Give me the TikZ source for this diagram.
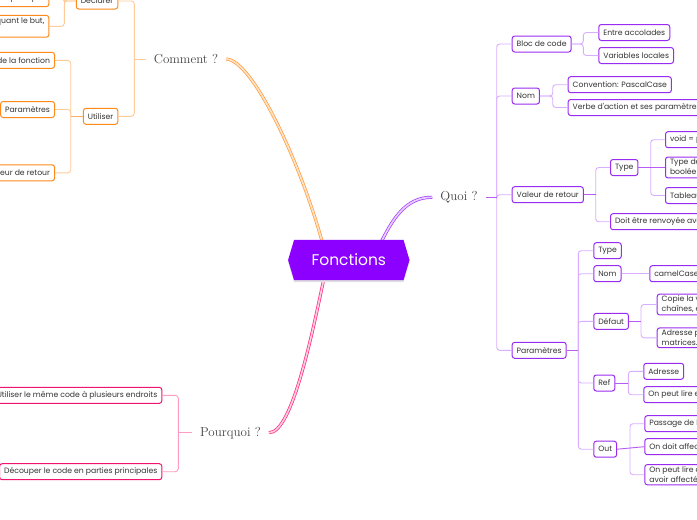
\documentclass[tikz,border=0pt]{standalone}
\usepackage{fontspec}
\newfontfamily\boxfont{Poppins}
\usetikzlibrary{calc}
\definecolor{fmain}{HTML}{8C00FF}
\definecolor{qborder}{HTML}{9A2CF2}
\definecolor{qline}{HTML}{D9AEFF}
\definecolor{qlinedark}{HTML}{B45CF5}
\definecolor{qcurve}{HTML}{A03BFF}
\definecolor{oborder}{HTML}{FF8A1C}
\definecolor{oline}{HTML}{FFCC99}
\definecolor{ocurve}{HTML}{FF9A3C}
\definecolor{pborder}{HTML}{F2136F}
\definecolor{pline}{HTML}{FF9CC4}
\definecolor{pcurve}{HTML}{FF2A80}
\definecolor{txt}{HTML}{333333}
\definecolor{lbl}{HTML}{444444}
\tikzset{
  leaf/.style={rounded corners=2.5pt, fill=white, line width=1pt,
    font=\boxfont\fontsize{7.7}{10}\selectfont, text=txt, inner xsep=4.5pt,
    inner ysep=2pt, minimum height=16pt, align=left},
  qbox/.style={leaf, draw=qborder, anchor=west},
  obox/.style={leaf, draw=oborder, anchor=east},
  pbox/.style={leaf, draw=pborder, anchor=east},
  mainlbl/.style={font=\fontsize{13}{15}\selectfont, text=lbl, inner xsep=8pt, inner ysep=2pt},
  qconn/.style={draw=qline, line width=0.9pt, rounded corners=3pt},
  oconn/.style={draw=oline, line width=0.9pt, rounded corners=3pt},
  pconn/.style={draw=pline, line width=0.9pt, rounded corners=3pt},
  curvebase/.style={line width=0.7pt, double distance=1.7pt},
}
\begin{document}
\begin{tikzpicture}[x=1pt,y=-1pt]
\useasboundingbox (0,0) rectangle (697,520);
\clip (0,0) rectangle (697,520);
\fill[white] (0,0) rectangle (697,520);

% central node
\node[minimum width=121pt, minimum height=40pt, inner sep=0pt] (F) at (348.8,260) {};
\coordinate (cA) at ($(F.north)+(-25.5,0)$);
\coordinate (cB) at ($(F.north)+(30.5,0)$);
\coordinate (cC) at ($(F.south)+(-24,0)$);

% main labels
\node[mainlbl] (comment) at (186,59) {Comment ?};
\node[mainlbl] (quoi) at (459,197.3) {Quoi ?};
\node[mainlbl] (pourquoi) at (230.5,432.7) {Pourquoi ?};

% main curves
\draw[curvebase, draw=ocurve, double=ocurve!30] (comment.east) .. controls (252,60) and (300,160) .. ($(cA)+(0,6)$);
\draw[curvebase, draw=qcurve, double=qcurve!25] ($(cB)+(0,6)$) .. controls (392,220) and (405,197) .. (quoi.west);
\draw[curvebase, draw=pcurve, double=pcurve!25] ($(cC)+(0,-6)$) .. controls (312,335) and (292,433) .. (pourquoi.east);

\fill[black!12] ($(F.west)+(0,2)$) -- ($(F.north west)+(6,2)$) -- ($(F.north east)+(-6,2)$) -- ($(F.east)+(0,2)$) -- ($(F.south east)+(-6,2)$) -- ($(F.south west)+(6,2)$) -- cycle;
\fill[fmain] (F.west) -- ($(F.north west)+(6,0)$) -- ($(F.north east)+(-6,0)$) -- (F.east) -- ($(F.south east)+(-6,0)$) -- ($(F.south west)+(6,0)$) -- cycle;
\node[text=white, font=\boxfont\fontsize{15.5}{18}\selectfont] (Ft) at (F.center) {Fonctions};

% ---------- Quoi ----------
\node[qbox] (bloc) at (511.7,44) {Bloc de code};
\node[qbox] (entre) at (598.3,32.5) {Entre accolades};
\node[qbox] (varloc) at (598.3,55.5) {Variables locales};
\node[qbox] (nom) at (511.7,96) {Nom};
\node[qbox] (conv) at (567.7,84.7) {Convention: PascalCase};
\node[qbox] (verbe) at (567.7,107.5) {Verbe d'action et ses paramètres};
\node[qbox] (valeur) at (511.7,194.7) {Valeur de retour};
\node[qbox] (type) at (610,167.5) {Type};
\node[qbox] (doit) at (610,221.7) {Doit être renvoyée avec return};
\node[qbox] (void) at (665,139.7) {void = pas de valeur};
\node[qbox] (typede) at (665,167.5) {Type de base : entier,\\booléen, caractère};
\node[qbox] (tableau) at (665,195.5) {Tableau};
\node[qbox] (params) at (511.7,350.3) {Paramètres};
\node[qbox] (ptype) at (593.3,250.7) {Type};
\node[qbox] (pnom) at (593.3,273.7) {Nom};
\node[qbox] (camel) at (649.3,273.7) {camelCase};
\node[qbox] (defaut) at (593.3,321.3) {Défaut};
\node[qbox] (copie) at (656.7,304.5) {Copie la valeur pour\\chaînes, entiers};
\node[qbox] (adrp) at (656.7,337.8) {Adresse pour tableaux,\\matrices.};
\node[qbox] (ref) at (593.3,383) {Ref};
\node[qbox] (radr) at (643.3,371.3) {Adresse};
\node[qbox] (rlire) at (643.3,394.7) {On peut lire et modifier};
\node[qbox] (out) at (593.3,449.2) {Out};
\node[qbox] (pass) at (644.3,423.7) {Passage de l'adresse};
\node[qbox] (doitaff) at (644.3,446.7) {On doit affecter};
\node[qbox] (lire2) at (644.3,474.7) {On peut lire qu'après\\avoir affecté};

\coordinate (qt) at (496.7,197.3);
\draw[qconn] (qt) |- (bloc.west);
\draw[qconn] (qt) |- (nom.west);
\draw[qconn] (qt) |- (valeur.west);
\draw[qconn] (qt) |- (params.west);
\draw[qconn, draw=qlinedark] (quoi.east) -- (qt);

\coordinate (bb) at (583.3,44);
\draw[qconn] (bloc.east) -- (bb) |- (entre.west);
\draw[qconn] (bloc.east) -- (bb) |- (varloc.west);
\coordinate (nb) at (552.7,96);
\draw[qconn] (nom.east) -- (nb) |- (conv.west);
\draw[qconn] (nom.east) -- (nb) |- (verbe.west);
\coordinate (vb) at (595.7,194.7);
\draw[qconn] (vb) |- (type.west);
\draw[qconn] (vb) |- (doit.west);
\draw[qconn, draw=qlinedark] (valeur.east) -- (vb);
\coordinate (tb) at (650.7,167.5);
\draw[qconn] (tb) |- (void.west);
\draw[qconn] (tb) |- (tableau.west);
\draw[qconn, draw=qlinedark] (type.east) -- (typede.west);
\coordinate (pb) at (578.3,350.3);
\draw[qconn] (pb) |- (ptype.west);
\draw[qconn] (pb) |- (pnom.west);
\draw[qconn] (pb) |- (defaut.west);
\draw[qconn] (pb) |- (ref.west);
\draw[qconn] (pb) |- (out.west);
\draw[qconn, draw=qlinedark] (params.east) -- (pb);
\draw[qconn] (pnom.east) -- (camel.west);
\coordinate (db) at (641,321.3);
\draw[qconn] (db) |- (copie.west);
\draw[qconn] (db) |- (adrp.west);
\draw[qconn, draw=qlinedark] (defaut.east) -- (db);
\coordinate (rb) at (628.3,383);
\draw[qconn] (rb) |- (radr.west);
\draw[qconn] (rb) |- (rlire.west);
\draw[qconn, draw=qlinedark] (ref.east) -- (rb);
\coordinate (ob) at (630,449.2);
\draw[qconn] (ob) |- (pass.west);
\draw[qconn] (ob) |- (lire2.west);
\draw[qconn, draw=qlinedark] (out.east) -- (doitaff.west);

% ---------- Comment ----------
\node[obox] (decl) at (118.3,1) {Déclarer};
\node[obox] (d1) at (49.3,-1.3) {Avant le programme principal};
\node[obox] (d2) at (49.3,26.3) {Commentaire indiquant le but,\\les paramètres};
\node[obox] (util) at (118.3,116.3) {Utiliser};
\node[obox] (u1) at (55,60.3) {Nom de la fonction};
\node[obox] (u2) at (55,109.5) {Paramètres};
\node[obox] (u3) at (55,172.8) {Valeur de retour};

\coordinate (ct) at (134.3,59);
\draw[oconn] (comment.west) -- (ct);
\draw[oconn] (ct) |- (decl.east);
\draw[oconn] (ct) |- (util.east);
\coordinate (deb) at (64.3,1);
\draw[oconn] (decl.west) -- (deb) |- (d1.east);
\draw[oconn] (decl.west) -- (deb) |- (d2.east);
\coordinate (ub) at (70.7,116.3);
\draw[oconn] (ub) |- (u1.east);
\draw[oconn] (ub) |- (u2.east);
\draw[oconn] (ub) |- (u3.east);
\draw[oconn, draw=oborder!70] (util.west) -- (ub);

% ---------- Pourquoi ----------
\node[pbox] (pq1) at (162.3,395.3) {Utiliser le même code à plusieurs endroits};
\node[pbox] (pq2) at (162.3,471.7) {Découper le code en parties principales};
\coordinate (pt) at (178.3,432.7);
\draw[pconn] (pourquoi.west) -- (pt);
\draw[pconn] (pt) |- (pq1.east);
\draw[pconn] (pt) |- (pq2.east);
\end{tikzpicture}
\end{document}
